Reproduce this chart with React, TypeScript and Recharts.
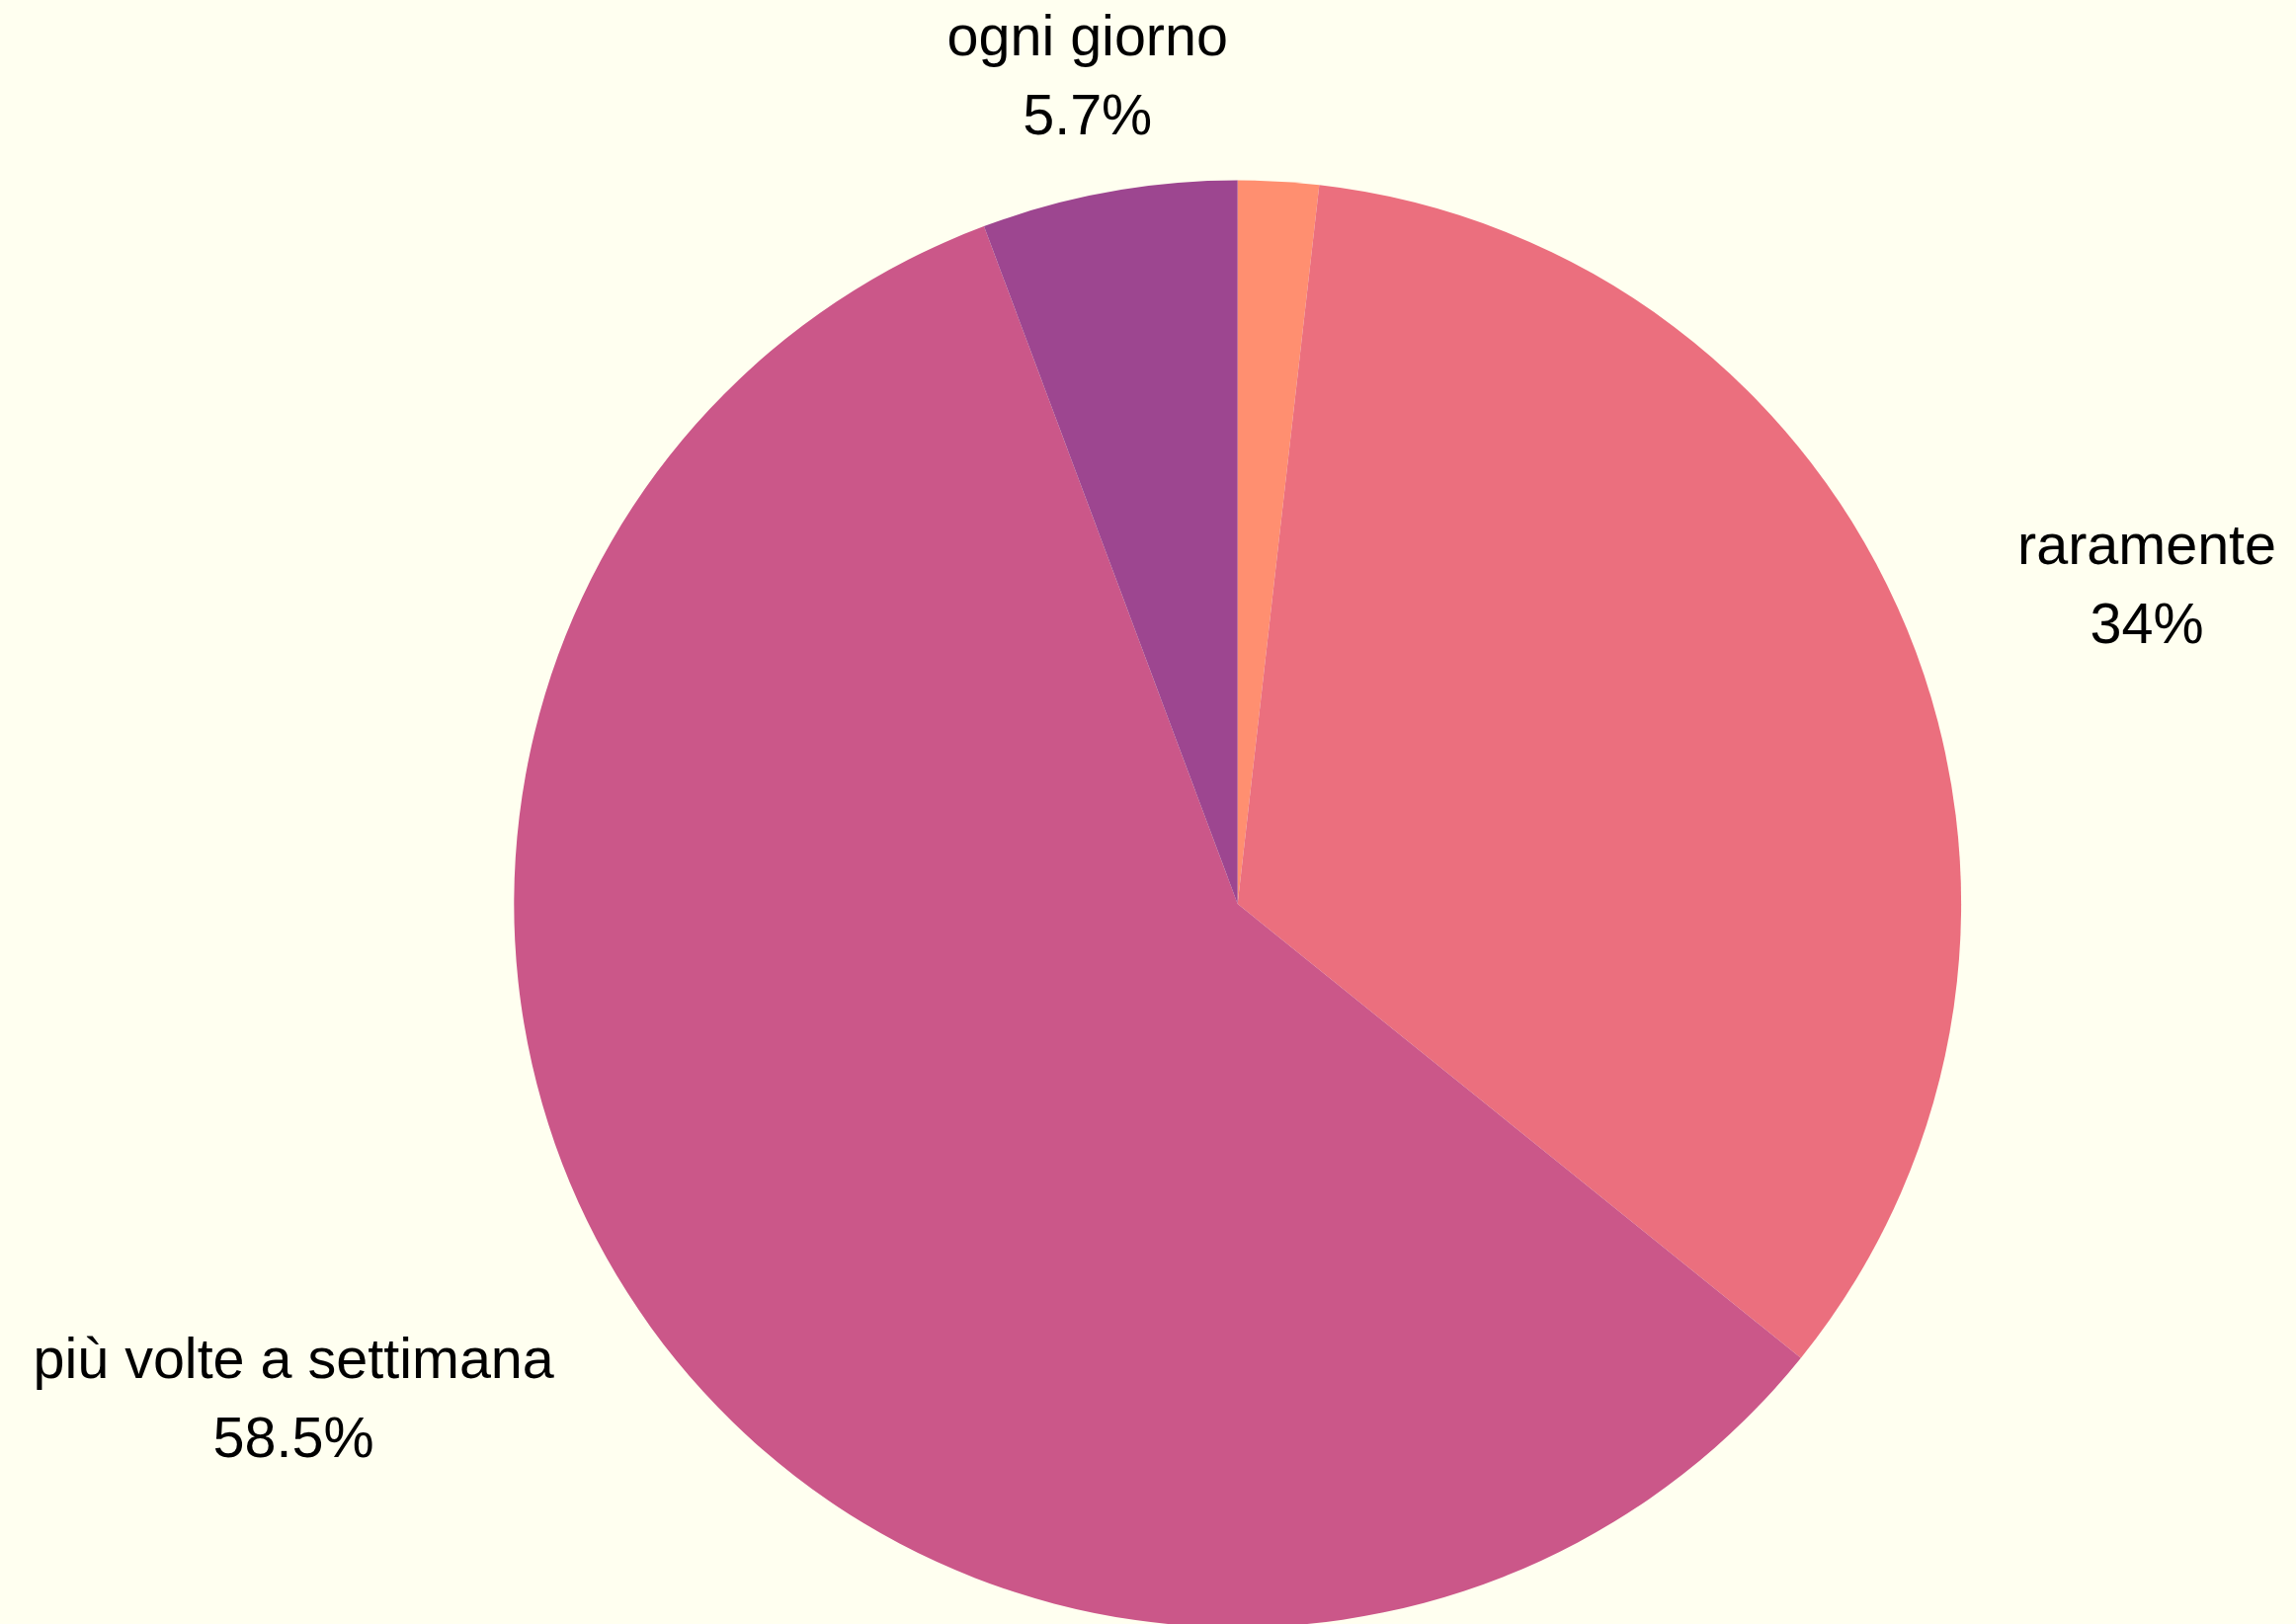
import React from 'react';
import { PieChart, Pie, Cell } from 'recharts';

const categories = ['mai', 'raramente', 'più volte a settimana', 'ogni giorno'];
const percentages = [1.8, 34, 58.5, 5.7];
const colors = ['#FF8F70', '#EB6F7E', '#CB5789', '#9D4690'];

const data = categories.map((name, i) => ({ name, value: percentages[i] }));

const RADIAN = Math.PI / 180;
const FONT_SIZE = 57.5;
const FONT_FAMILY = '"Liberation Sans", Arial, sans-serif';

// measure label width so both lines can be centred inside the block
let measureCtx: CanvasRenderingContext2D | null = null;
const textWidth = (s: string) => {
  if (!measureCtx) {
    measureCtx = document.createElement('canvas').getContext('2d');
  }
  if (!measureCtx) return s.length * FONT_SIZE * 0.5;
  measureCtx.font = `${FONT_SIZE}px ${FONT_FAMILY}`;
  return measureCtx.measureText(s).width;
};

// labels sit outside the pie, centred vertically on the slice's mid-angle
const renderLabel = (props: any) => {
  const { cx, cy, midAngle, outerRadius, percent, name, value } = props;
  if (percent < 0.03) return null;
  const r = outerRadius * 1.165;
  const cos = Math.cos(-midAngle * RADIAN);
  const ax = cx + r * cos;
  const y = cy + r * Math.sin(-midAngle * RADIAN);
  const pct = `${value}%`;
  const half = Math.max(textWidth(name), textWidth(pct)) / 2;
  const x = cos > 0.3 ? ax + half : cos < -0.3 ? ax - half : ax;
  return (
    <text
      x={x}
      y={y}
      textAnchor="middle"
      fill="#000"
      style={{ fontFamily: FONT_FAMILY, fontSize: FONT_SIZE }}
    >
      <tspan x={x} y={y - 19.5}>{name}</tspan>
      <tspan x={x} y={y + 60.5}>{pct}</tspan>
    </text>
  );
};

export default function App() {
  return (
    <div style={{ position: 'absolute', top: 0, left: 0, width: 2324, height: 1644, background: '#FFFFF0' }}>
      <PieChart width={2324} height={1644} margin={{ top: 0, right: 0, bottom: 0, left: 0 }}>
        <Pie
          data={data}
          dataKey="value"
          nameKey="name"
          cx={1252.7}
          cy={915}
          outerRadius={732.4}
          startAngle={90}
          endAngle={-270}
          stroke="none"
          labelLine={false}
          label={renderLabel}
          isAnimationActive={false}
        >
          {data.map((d, i) => (
            <Cell key={d.name} fill={colors[i]} />
          ))}
        </Pie>
      </PieChart>
    </div>
  );
}
